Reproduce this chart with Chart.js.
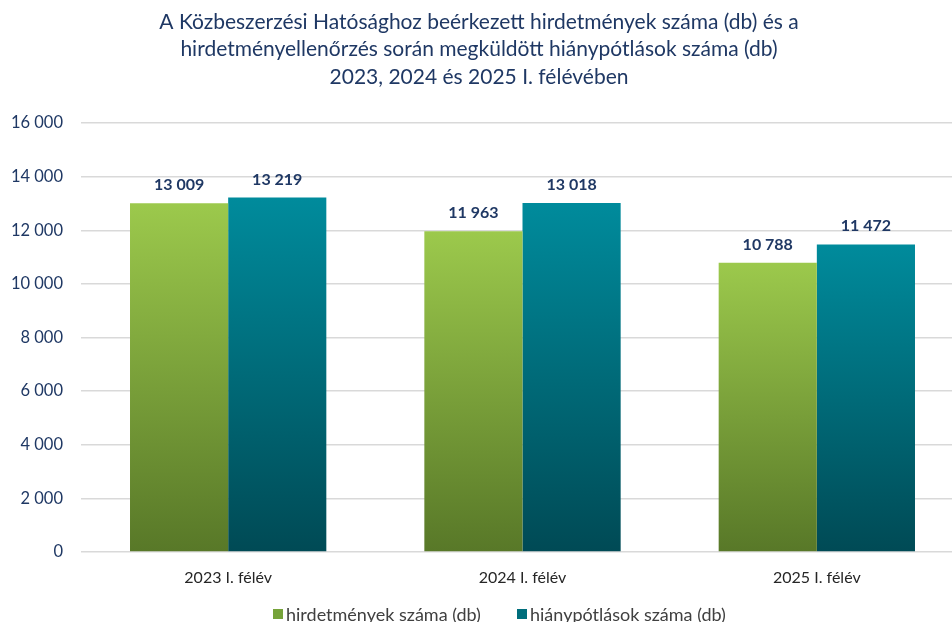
<!DOCTYPE html>
<html><head><meta charset="utf-8">
<script src="https://cdn.jsdelivr.net/npm/chart.js@4/dist/chart.umd.min.js"></script>
<style>html,body{margin:0;padding:0;overflow:hidden;background:#fff;width:952px;height:622px}#wrap{position:absolute;left:0;top:0;width:964px;height:622px}</style>
</head><body>
<div id="wrap"><canvas id="c" width="964" height="622"></canvas></div>
<script>
const categories = ['2023 I. félév', '2024 I. félév', '2025 I. félév'];
const hirdetmenyek = [13009, 11963, 10788];
const hianypotlasok = [13219, 13018, 11472];
const seriesNames = ['hirdetmények száma (db)', 'hiánypótlások száma (db)'];
const titleLines = ['A Közbeszerzési Hatósághoz beérkezett hirdetmények száma (db) és a', 'hirdetményellenőrzés során megküldött hiánypótlások száma (db)', '2023, 2024 és 2025 I. félévében'];
const yMax = 16000, yStep = 2000;

const FONT = 'Lato, "Open Sans", sans-serif';
const NAVY = '#1F3864';
function fmt(v){return String(v).replace(/\B(?=(\d{3})+(?!\d))/g,' ');}
function grad(top, bottom){
  return function(ctx){
    const ch = ctx.chart;
    if(!ch.chartArea || ctx.type!=='data') return bottom;
    const y = ch.scales.y;
    const g = ch.ctx.createLinearGradient(0, y.getPixelForValue(ctx.raw), 0, y.getPixelForValue(0));
    g.addColorStop(0, top); g.addColorStop(1, bottom);
    return g;
  };
}
const overlay = {
  id:'overlay',
  afterDatasetsDraw(chart){
    const c = chart.ctx;
    c.save();
    c.fillStyle = NAVY; c.font = 'bold 16px '+FONT; c.textAlign='center'; c.textBaseline='alphabetic';
    chart.data.datasets.forEach((ds,i)=>{
      chart.getDatasetMeta(i).data.forEach((el,j)=>{
        c.fillText(fmt(ds.data[j]), el.x, el.y - 13);
      });
    });
    c.restore();
  },
  afterDraw(chart){
    const c = chart.ctx;
    c.save();
    c.fillStyle = NAVY; c.font = '21px '+FONT; c.textAlign='center'; c.textBaseline='middle';
    titleLines.forEach((t,i)=>c.fillText(t, 479, 22 + i*27.5));
    // legend
    c.font = '18px '+FONT; c.textAlign='left'; c.textBaseline='middle';
    const items = [{x:273, col:'#76A33A'}, {x:517, col:'#006E7C'}];
    items.forEach((it,i)=>{
      c.fillStyle = it.col; c.fillRect(it.x, 609, 10, 10);
      c.fillStyle = '#404040'; c.fillText(seriesNames[i], it.x+13, 615);
    });
    c.restore();
  }
};
new Chart(document.getElementById('c'), {
  type:'bar',
  data:{labels:categories, datasets:[
    {label:seriesNames[0], data:hirdetmenyek, backgroundColor:grad('#9CC94C','#587828'), barPercentage:1, categoryPercentage:0.667},
    {label:seriesNames[1], data:hianypotlasok, backgroundColor:grad('#008B9C','#004A55'), barPercentage:1, categoryPercentage:0.667}
  ]},
  options:{
    responsive:false, animation:false,
    layout:{padding:{top:123, left:0, right:0, bottom:0}},
    plugins:{legend:{display:false}, title:{display:false}, tooltip:{enabled:false}},
    scales:{
      x:{grid:{display:false, drawTicks:false}, border:{display:false},
         ticks:{color:'#262626', font:{family:FONT, size:16}, padding:16},
         afterFit(s){s.height = 70;}},
      y:{min:0, max:yMax, ticks:{stepSize:yStep, color:NAVY, font:{family:FONT, size:16.5}, padding:18, callback:v=>fmt(v)},
         grid:{color:'#D9D9D9', lineWidth:1.5, drawTicks:false}, border:{display:false},
         afterFit(s){s.width = 81;}}
    }
  },
  plugins:[overlay]
});
</script>
</body></html>
